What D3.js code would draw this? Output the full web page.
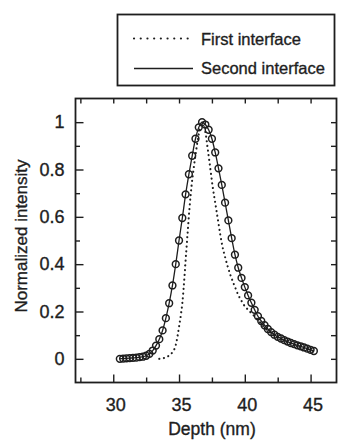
<!DOCTYPE html>
<html>
<head>
<meta charset="utf-8">
<script src="https://cdn.jsdelivr.net/npm/d3@7"></script>
<style>
  body { margin: 0; background: #fff; }
  svg { display: block; font-family: "Liberation Sans", Arial, Helvetica, sans-serif; }
  svg text { stroke: #1e1e1e; stroke-width: 0.35px; }
</style>
</head>
<body>
<div id="chart"></div>
<script>
// Measured profile (circles) and fit for the second interface
const depth = [30.5, 30.75, 31, 31.25, 31.5, 31.75, 32, 32.25, 32.5, 32.75,
  33, 33.25, 33.5, 33.75, 34, 34.25, 34.5, 34.75, 35, 35.25,
  35.5, 35.75, 36, 36.25, 36.5, 36.75, 37, 37.25, 37.5, 37.75,
  38, 38.25, 38.5, 38.75, 39, 39.25, 39.5, 39.75, 40, 40.25,
  40.5, 40.75, 41, 41.25, 41.5, 41.75, 42, 42.25, 42.5, 42.75,
  43, 43.25, 43.5, 43.75, 44, 44.25, 44.5, 44.75, 45, 45.25];
const intensity = [0, 0.001, 0.002, 0.003, 0.004, 0.005, 0.007, 0.009, 0.013, 0.021,
  0.035, 0.056, 0.083, 0.12, 0.172, 0.235, 0.31, 0.4, 0.5, 0.595,
  0.695, 0.78, 0.858, 0.93, 0.978, 1.0, 0.99, 0.968, 0.93, 0.872,
  0.805, 0.735, 0.66, 0.585, 0.51, 0.44, 0.385, 0.342, 0.303, 0.268,
  0.237, 0.207, 0.18, 0.16, 0.142, 0.126, 0.113, 0.102, 0.093, 0.086,
  0.079, 0.073, 0.067, 0.062, 0.057, 0.053, 0.048, 0.043, 0.038, 0.033];

// First interface (dotted)
const firstDepth = [33.5, 34, 34.25, 34.5, 34.75, 34.9, 35, 35.15, 35.25, 35.35,
  35.45, 35.55, 35.65, 35.8, 35.95, 36.1, 36.3, 36.5, 36.75, 37,
  37.2, 37.4, 37.55, 37.75, 37.95, 38.15, 38.3, 38.5, 38.7, 38.9,
  39.1, 39.3, 39.5, 39.7, 39.9, 40.2, 40.5, 41, 41.5, 42,
  42.5, 43, 43.5, 44, 44.5, 45, 45.25];
const firstIntensity = [0, 0.006, 0.014, 0.028, 0.058, 0.1, 0.135, 0.19, 0.235, 0.3,
  0.375, 0.455, 0.53, 0.64, 0.73, 0.8, 0.88, 0.95, 1.0, 0.96,
  0.88, 0.795, 0.73, 0.66, 0.59, 0.52, 0.475, 0.43, 0.39, 0.355,
  0.325, 0.297, 0.27, 0.25, 0.23, 0.21, 0.193, 0.165, 0.132, 0.108,
  0.09, 0.077, 0.065, 0.055, 0.046, 0.037, 0.032];

const xMajor = [30, 35, 40, 45];
const xMinor = [27.5, 32.5, 37.5, 42.5];
const yMajor = [0, 0.2, 0.4, 0.6, 0.8, 1];
const yMinor = [0.1, 0.3, 0.5, 0.7, 0.9];
const legendLabels = ["First interface", "Second interface"];

const W = 338, H = 443;
const plot = { left: 75.5, right: 336.5, top: 98.5, bottom: 382.5 };
const ink = "#1e1e1e";

const svg = d3.select("#chart").append("svg")
  .attr("width", W)
  .attr("height", H);

const x = d3.scaleLinear()
  .domain([27.13, 46.97])
  .range([plot.left, plot.right]);

const y = d3.scaleLinear()
  .domain([-0.1, 1.1])
  .range([plot.bottom, plot.top]);

// Axes, ticks pointing inward

function styleAxis(g) {
  g.select(".domain").remove();
  g.selectAll(".tick line").attr("stroke", ink).attr("stroke-width", 1.4);
  g.selectAll(".tick text").attr("fill", ink);
}

svg.append("g")
  .attr("transform", `translate(0,${plot.bottom})`)
  .style("font-size", "18px")
  .call(d3.axisBottom(x).tickValues(xMajor).tickSize(-8).tickPadding(16).tickFormat(d => d))
  .call(styleAxis)
  .selectAll(".tick text").attr("dx", "2");

svg.append("g")
  .attr("transform", `translate(0,${plot.bottom})`)
  .call(d3.axisBottom(x).tickValues(xMinor).tickSize(-5).tickFormat(""))
  .call(styleAxis);

svg.append("g")
  .attr("transform", `translate(0,${plot.top})`)
  .call(d3.axisTop(x).tickValues(xMajor.concat(xMinor)).tickSize(-5).tickFormat(""))
  .call(styleAxis);

svg.append("g")
  .attr("transform", `translate(${plot.left},0)`)
  .style("font-size", "18px")
  .call(d3.axisLeft(y).tickValues(yMajor).tickSize(-8).tickPadding(11).tickFormat(d => d))
  .call(styleAxis);

svg.append("g")
  .attr("transform", `translate(${plot.left},0)`)
  .call(d3.axisLeft(y).tickValues(yMinor).tickSize(-4.5).tickFormat(""))
  .call(styleAxis);

svg.append("g")
  .attr("transform", `translate(${plot.right},0)`)
  .call(d3.axisRight(y).tickValues(yMajor.concat(yMinor)).tickSize(-5.5).tickFormat(""))
  .call(styleAxis);

// Plot frame

svg.append("rect")
  .attr("x", plot.left)
  .attr("y", plot.top)
  .attr("width", plot.right - plot.left)
  .attr("height", plot.bottom - plot.top)
  .attr("fill", "none")
  .attr("stroke", ink)
  .attr("stroke-width", 1.8);

// Curves

const measured = depth.map((d, i) => ({ depth: d, value: intensity[i] }));
const first = firstDepth.map((d, i) => ({ depth: d, value: firstIntensity[i] }));

const line = d3.line()
  .x(d => x(d.depth))
  .y(d => y(d.value))
  .curve(d3.curveMonotoneX);

svg.append("path")
  .datum(first)
  .attr("fill", "none")
  .attr("stroke", ink)
  .attr("stroke-width", 2.1)
  .attr("stroke-linecap", "round")
  .attr("stroke-dasharray", "0.1,4.6")
  .attr("d", line);

svg.append("path")
  .datum(measured)
  .attr("fill", "none")
  .attr("stroke", ink)
  .attr("stroke-width", 1.3)
  .attr("d", line);

svg.selectAll(".pt")
  .data(measured)
  .join("circle")
  .attr("class", "pt")
  .attr("cx", d => x(d.depth))
  .attr("cy", d => y(d.value))
  .attr("r", 3.4)
  .attr("fill", "none")
  .attr("stroke", ink)
  .attr("stroke-width", 1.5);

// Axis titles

svg.append("text")
  .attr("x", 212)
  .attr("y", 435)
  .attr("text-anchor", "middle")
  .style("font-size", "17.5px")
  .attr("fill", ink)
  .text("Depth (nm)");

svg.append("text")
  .attr("transform", "translate(27,236) rotate(-90)")
  .attr("text-anchor", "middle")
  .style("font-size", "17px")
  .attr("fill", ink)
  .text("Normalized intensity");

// Legend

const legend = svg.append("g");

legend.append("rect")
  .attr("x", 117.5)
  .attr("y", 14.5)
  .attr("width", 217)
  .attr("height", 71)
  .attr("fill", "#fff")
  .attr("stroke", ink)
  .attr("stroke-width", 1.8);

legend.selectAll(".sample")
  .data(legendLabels)
  .join("line")
  .attr("class", "sample")
  .attr("x1", 134)
  .attr("x2", 193)
  .attr("y1", (d, i) => 38.5 + i * 30)
  .attr("y2", (d, i) => 38.5 + i * 30)
  .attr("stroke", ink)
  .attr("stroke-width", (d, i) => i ? 1.4 : 2.1)
  .attr("stroke-linecap", (d, i) => i ? "butt" : "round")
  .attr("stroke-dasharray", (d, i) => i ? null : "0.1,6.6");

legend.selectAll(".label")
  .data(legendLabels)
  .join("text")
  .attr("class", "label")
  .attr("x", 201)
  .attr("y", (d, i) => 45 + i * 28.5)
  .style("font-size", "16.5px")
  .attr("fill", ink)
  .text(d => d);
</script>
</body>
</html>
